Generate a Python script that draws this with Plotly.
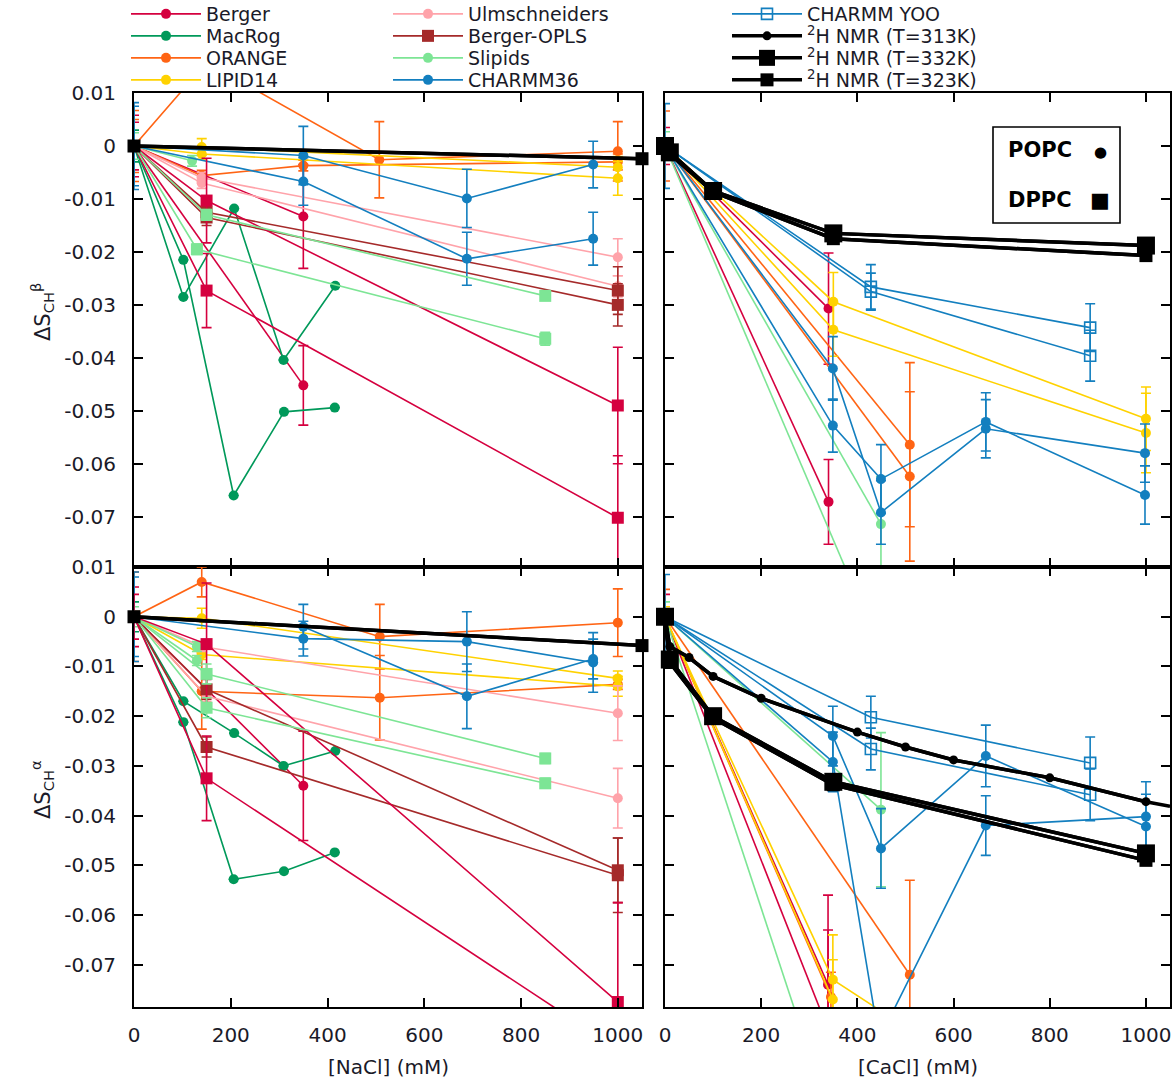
import plotly.graph_objects as go

# ---------------- ticks and titles ----------------
X_TICKS = [0, 200, 400, 600, 800, 1000]
X_TICK_LABELS = ["0", "200", "400", "600", "800", "1000"]
Y_TICKS = [0.01, 0, -0.01, -0.02, -0.03, -0.04, -0.05, -0.06, -0.07]
Y_TICK_LABELS = ["0.01", "0", "-0.01", "-0.02", "-0.03", "-0.04", "-0.05", "-0.06", "-0.07"]
X_TITLES = ["[NaCl] (mM)", "[CaCl] (mM)"]
Y_TITLES = ["ΔS<sub>CH</sub><sup>β</sup>", "ΔS<sub>CH</sub><sup>α</sup>"]

MODELS = ["Berger", "MacRog", "ORANGE", "LIPID14", "Ulmschneiders", "Berger-OPLS",
          "Slipids", "CHARMM36", "CHARMM YOO"]
NMR_NAMES = ["<sup>2</sup>H NMR (T=313K)", "<sup>2</sup>H NMR (T=332K)", "<sup>2</sup>H NMR (T=323K)"]
KEY_LABELS = ["POPC", "DPPC"]

# ================= NaCl, beta (top-left) =================
nb_berger_popc_x = [[0, 350], [0, 350]]
nb_berger_popc_y = [[0, -0.0133], [0, -0.0452]]
nb_berger_popc_e = [[0.0058, 0.0098], [0.0045, 0.0075]]
nb_berger_dppc_x = [[0, 150, 1000], [0, 150, 1000]]
nb_berger_dppc_y = [[0, -0.0103, -0.0490], [0, -0.0273, -0.0702]]
nb_berger_dppc_e = [[0, 0.0080, 0.0110], [0, 0.0070, 0.0117]]
nb_macrog_popc_x = [[0, 102, 207, 309, 416], [0, 102, 206, 310, 415]]
nb_macrog_popc_y = [[0, -0.0285, -0.0118, -0.0404, -0.0264], [0, -0.0215, -0.0660, -0.0502, -0.0494]]
nb_macrog_popc_e = [[0.0030, 0, 0, 0, 0], [0, 0, 0, 0, 0]]
nb_orange_popc_x = [[0, 150, 507, 1000], [0, 140, 350, 1000]]
nb_orange_popc_y = [[0, 0.0158, -0.0026, -0.0010], [0, -0.0056, -0.0037, -0.0030]]
nb_orange_popc_e = [[0.0067, 0.0020, 0.0072, 0.0056], [0.0050, 0.0010, 0.0010, 0.0015]]
nb_lipid14_popc_x = [[0, 140, 1000], [0, 140, 1000]]
nb_lipid14_popc_y = [[0, -0.0002, -0.0040], [0, -0.0015, -0.0061]]
nb_lipid14_popc_e = [[0, 0.0016, 0.0020], [0, 0.0010, 0.0032]]
nb_ulms_popc_x = [[0, 140, 1000], [0, 140, 1000]]
nb_ulms_popc_y = [[0, -0.0060, -0.0210], [0, -0.0070, -0.0265]]
nb_ulms_popc_e = [[0, 0.0010, 0.0035], [0, 0.0010, 0.0020]]
nb_bopls_dppc_x = [[0, 150, 1000], [0, 150, 1000]]
nb_bopls_dppc_y = [[0, -0.0125, -0.0273], [0, -0.0135, -0.0300]]
nb_bopls_dppc_e = [[0, 0.0010, 0.0045], [0, 0.0015, 0.0040]]
nb_slipids_popc_x = [[0, 120]]
nb_slipids_popc_y = [[0, -0.0028]]
nb_slipids_popc_e = [[0.0025, 0.0010]]
nb_slipids_dppc_x = [[0, 150, 850], [0, 130, 850]]
nb_slipids_dppc_y = [[0, -0.0130, -0.0283], [0, -0.0195, -0.0364]]
nb_slipids_dppc_e = [[0, 0.0010, 0.0008], [0, 0.0010, 0.0012]]
nb_charmm_popc_x = [[0, 350, 688, 949], [0, 350, 688, 949]]
nb_charmm_popc_y = [[0, -0.0018, -0.0099, -0.0035], [0, -0.0067, -0.0213, -0.0175]]
nb_charmm_popc_e = [[0.0082, 0.0055, 0.0055, 0.0044], [0.0075, 0.0045, 0.0050, 0.0050]]
nb_nmr323_x = [0, 1050]
nb_nmr323_y = [0, -0.0024]

# ================= NaCl, alpha (bottom-left) =================
na_berger_popc_x = [[0, 350]]
na_berger_popc_y = [[0, -0.0340]]
na_berger_popc_e = [[0.0060, 0.0110]]
na_berger_dppc_x = [[0, 150, 1000], [0, 150, 1000]]
na_berger_dppc_y = [[0, -0.0055, -0.0775], [0, -0.0325, -0.0870]]
na_berger_dppc_e = [[0.0045, 0.0123, 0.0200], [0, 0.0085, 0]]
na_macrog_popc_x = [[0, 102, 207, 309, 416], [0, 102, 206, 310, 415]]
na_macrog_popc_y = [[0, -0.0170, -0.0234, -0.0300, -0.0270], [0, -0.0212, -0.0528, -0.0512, -0.0474]]
na_macrog_popc_e = [[0.0030, 0, 0, 0, 0], [0, 0, 0, 0, 0]]
na_orange_popc_x = [[0, 140, 508, 1000], [0, 140, 508, 1000]]
na_orange_popc_y = [[0, 0.0070, -0.0040, -0.0012], [0, -0.0150, -0.0163, -0.0136]]
na_orange_popc_e = [[0.0090, 0.0030, 0.0065, 0.0068], [0, 0.0076, 0.0085, 0.0010]]
na_lipid14_popc_x = [[0, 140, 1000], [0, 140, 1000]]
na_lipid14_popc_y = [[0, -0.0003, -0.0124], [0, -0.0076, -0.0140]]
na_lipid14_popc_e = [[0, 0.0020, 0.0015], [0, 0.0010, 0.0020]]
na_ulms_popc_x = [[0, 140, 1000], [0, 150, 1000]]
na_ulms_popc_y = [[0, -0.0060, -0.0194], [0, -0.0160, -0.0365]]
na_ulms_popc_e = [[0, 0.0010, 0.0055], [0, 0.0010, 0.0060]]
na_bopls_dppc_x = [[0, 150, 1000], [0, 150, 1000]]
na_bopls_dppc_y = [[0, -0.0146, -0.0510], [0, -0.0262, -0.0520]]
na_bopls_dppc_e = [[0, 0.0020, 0.0065], [0, 0.0020, 0.0075]]
na_slipids_popc_x = [[0, 130], [0, 130]]
na_slipids_popc_y = [[0, -0.0060], [0, -0.0088]]
na_slipids_popc_e = [[0.0020, 0.0010], [0, 0.0010]]
na_slipids_dppc_x = [[0, 150, 850], [0, 150, 850]]
na_slipids_dppc_y = [[0, -0.0115, -0.0285], [0, -0.0183, -0.0335]]
na_slipids_dppc_e = [[0, 0.0020, 0.0010], [0, 0.0020, 0.0010]]
na_charmm_popc_x = [[0, 350, 688, 949], [0, 350, 688, 949]]
na_charmm_popc_y = [[0, -0.0020, -0.0160, -0.0085], [0, -0.0044, -0.0050, -0.0092]]
na_charmm_popc_e = [[0.0090, 0.0045, 0.0065, 0.0040], [0.0080, 0.0035, 0.0060, 0.0060]]
na_nmr323_x = [0, 1050]
na_nmr323_y = [0, -0.0058]

# ================= CaCl, beta (top-right) =================
cb_berger_popc_x = [[0, 340], [0, 340]]
cb_berger_popc_y = [[0, -0.0307], [0, -0.0672]]
cb_berger_popc_e = [[0.0035, 0.0105], [0, 0.0080]]
cb_orange_popc_x = [[0, 509], [0, 509]]
cb_orange_popc_y = [[0, -0.0564], [0, -0.0624]]
cb_orange_popc_e = [[0.0066, 0.0155], [0, 0.0160]]
cb_lipid14_popc_x = [[0, 350, 1000], [0, 350, 1000]]
cb_lipid14_popc_y = [[0, -0.0294, -0.0515], [0, -0.0347, -0.0542]]
cb_lipid14_popc_e = [[0, 0.0055, 0.0060], [0, 0.0050, 0.0075]]
cb_slipids_popc_x = [[0, 449], [0, 400]]
cb_slipids_popc_y = [[0, -0.0714], [0, -0.0850]]
cb_slipids_popc_e = [[0.0027, 0.0090], [0, 0]]
cb_charmm_popc_x = [[0, 349, 449, 667, 998], [0, 349, 449, 667, 998]]
cb_charmm_popc_y = [[0, -0.0420, -0.0692, -0.0534, -0.0580], [0, -0.0528, -0.0629, -0.0521, -0.0659]]
cb_charmm_popc_e = [[0.0080, 0.0060, 0.0060, 0.0055, 0.0055], [0, 0.0050, 0.0065, 0.0055, 0.0055]]
cb_yoo_popc_x = [[0, 428, 884], [0, 428, 884]]
cb_yoo_popc_y = [[0, -0.0266, -0.0343], [0, -0.0275, -0.0396]]
cb_yoo_popc_e = [[0, 0.0042, 0.0045], [0, 0.0035, 0.0048]]
cb_nmr332_x = [0, 10, 100, 350, 1000]
cb_nmr332_y = [0, -0.0012, -0.0085, -0.0165, -0.0188]
cb_nmr323_x = [0, 10, 100, 350, 1000]
cb_nmr323_y = [0.0003, -0.0015, -0.0087, -0.0175, -0.0207]

# ================= CaCl, alpha (bottom-right) =================
ca_berger_popc_x = [[0, 339], [0, 339]]
ca_berger_popc_y = [[0, -0.0740], [0, -0.0830]]
ca_berger_popc_e = [[0.0045, 0.0180], [0, 0.0200]]
ca_orange_popc_x = [[0, 509], [0, 345]]
ca_orange_popc_y = [[0, -0.0720], [0, -0.0765]]
ca_orange_popc_e = [[0.0055, 0.0190], [0, 0.0050]]
ca_lipid14_popc_x = [[0, 349, 460], [0, 349]]
ca_lipid14_popc_y = [[0, -0.0730, -0.0800], [0, -0.0770]]
ca_lipid14_popc_e = [[0.0020, 0.0090, 0], [0, 0.0080]]
ca_slipids_popc_x = [[0, 449], [0, 290]]
ca_slipids_popc_y = [[0, -0.0388], [0, -0.0850]]
ca_slipids_popc_e = [[0.0030, 0.0155], [0, 0]]
ca_charmm_popc_x = [[0, 349, 449, 667, 1000], [0, 349, 445, 667, 1000]]
ca_charmm_popc_y = [[0, -0.0240, -0.0466, -0.0280, -0.0422], [0, -0.0292, -0.0850, -0.0420, -0.0402]]
ca_charmm_popc_e = [[0.0085, 0.0060, 0.0080, 0.0062, 0.0065], [0, 0.0060, 0, 0.0060, 0.0070]]
ca_yoo_popc_x = [[0, 428, 884], [0, 428, 884]]
ca_yoo_popc_y = [[0, -0.0202, -0.0294], [0, -0.0266, -0.0358]]
ca_yoo_popc_e = [[0, 0.0042, 0.0052], [0, 0.0042, 0.0052]]
ca_nmr313_x = [0, 10, 50, 100, 200, 400, 500, 600, 800, 1000, 1050]
ca_nmr313_y = [0, -0.0060, -0.0082, -0.0120, -0.0164, -0.0232, -0.0262, -0.0288, -0.0324, -0.0372, -0.0381]
ca_nmr332_x = [0, 10, 100, 350, 1000]
ca_nmr332_y = [0, -0.0086, -0.0200, -0.0332, -0.0476]
ca_nmr323_x = [0, 10, 100, 350, 1000]
ca_nmr323_y = [0, -0.0092, -0.0204, -0.0338, -0.0490]

# ---------------- styles ----------------
FONT = "DejaVu Sans"
TEXT_COLOR = "#1a1a28"
COLORS = {
    "Berger": "#d5003f", "MacRog": "#00995a", "ORANGE": "#ff6414", "LIPID14": "#ffd200",
    "Ulmschneiders": "#ffa3aa", "Berger-OPLS": "#a52a2a", "Slipids": "#7de595",
    "CHARMM36": "#137fbf", "CHARMM YOO": "#137fbf",
}
AXES = {"nb": ("x", "y"), "cb": ("x2", "y2"), "na": ("x3", "y3"), "ca": ("x4", "y4")}

# legend key slots: (column, row) of each entry
LEGEND_ITEMS = MODELS[:8] + ["CHARMM YOO"] + NMR_NAMES
LEGEND_COL_X = [126, 388, 727]       # pixel x of each key column
LEGEND_ROW_Y = [15, 37, 59, 81]      # pixel y (centre) of each key row


def legend_id(name):
    i = LEGEND_ITEMS.index(name)
    return "legend" if i == 0 else "legend%d" % (i + 1)


SERIES = [
    ("nb", "Berger", "POPC", nb_berger_popc_x, nb_berger_popc_y, nb_berger_popc_e),
    ("nb", "Berger", "DPPC", nb_berger_dppc_x, nb_berger_dppc_y, nb_berger_dppc_e),
    ("nb", "MacRog", "POPC", nb_macrog_popc_x, nb_macrog_popc_y, nb_macrog_popc_e),
    ("nb", "ORANGE", "POPC", nb_orange_popc_x, nb_orange_popc_y, nb_orange_popc_e),
    ("nb", "LIPID14", "POPC", nb_lipid14_popc_x, nb_lipid14_popc_y, nb_lipid14_popc_e),
    ("nb", "Ulmschneiders", "POPC", nb_ulms_popc_x, nb_ulms_popc_y, nb_ulms_popc_e),
    ("nb", "Berger-OPLS", "DPPC", nb_bopls_dppc_x, nb_bopls_dppc_y, nb_bopls_dppc_e),
    ("nb", "Slipids", "POPC", nb_slipids_popc_x, nb_slipids_popc_y, nb_slipids_popc_e),
    ("nb", "Slipids", "DPPC", nb_slipids_dppc_x, nb_slipids_dppc_y, nb_slipids_dppc_e),
    ("nb", "CHARMM36", "POPC", nb_charmm_popc_x, nb_charmm_popc_y, nb_charmm_popc_e),
    ("na", "Berger", "POPC", na_berger_popc_x, na_berger_popc_y, na_berger_popc_e),
    ("na", "Berger", "DPPC", na_berger_dppc_x, na_berger_dppc_y, na_berger_dppc_e),
    ("na", "MacRog", "POPC", na_macrog_popc_x, na_macrog_popc_y, na_macrog_popc_e),
    ("na", "ORANGE", "POPC", na_orange_popc_x, na_orange_popc_y, na_orange_popc_e),
    ("na", "LIPID14", "POPC", na_lipid14_popc_x, na_lipid14_popc_y, na_lipid14_popc_e),
    ("na", "Ulmschneiders", "POPC", na_ulms_popc_x, na_ulms_popc_y, na_ulms_popc_e),
    ("na", "Berger-OPLS", "DPPC", na_bopls_dppc_x, na_bopls_dppc_y, na_bopls_dppc_e),
    ("na", "Slipids", "POPC", na_slipids_popc_x, na_slipids_popc_y, na_slipids_popc_e),
    ("na", "Slipids", "DPPC", na_slipids_dppc_x, na_slipids_dppc_y, na_slipids_dppc_e),
    ("na", "CHARMM36", "POPC", na_charmm_popc_x, na_charmm_popc_y, na_charmm_popc_e),
    ("cb", "Berger", "POPC", cb_berger_popc_x, cb_berger_popc_y, cb_berger_popc_e),
    ("cb", "ORANGE", "POPC", cb_orange_popc_x, cb_orange_popc_y, cb_orange_popc_e),
    ("cb", "LIPID14", "POPC", cb_lipid14_popc_x, cb_lipid14_popc_y, cb_lipid14_popc_e),
    ("cb", "Slipids", "POPC", cb_slipids_popc_x, cb_slipids_popc_y, cb_slipids_popc_e),
    ("cb", "CHARMM36", "POPC", cb_charmm_popc_x, cb_charmm_popc_y, cb_charmm_popc_e),
    ("cb", "CHARMM YOO", "YOO", cb_yoo_popc_x, cb_yoo_popc_y, cb_yoo_popc_e),
    ("ca", "Berger", "POPC", ca_berger_popc_x, ca_berger_popc_y, ca_berger_popc_e),
    ("ca", "ORANGE", "POPC", ca_orange_popc_x, ca_orange_popc_y, ca_orange_popc_e),
    ("ca", "LIPID14", "POPC", ca_lipid14_popc_x, ca_lipid14_popc_y, ca_lipid14_popc_e),
    ("ca", "Slipids", "POPC", ca_slipids_popc_x, ca_slipids_popc_y, ca_slipids_popc_e),
    ("ca", "CHARMM36", "POPC", ca_charmm_popc_x, ca_charmm_popc_y, ca_charmm_popc_e),
    ("ca", "CHARMM YOO", "YOO", ca_yoo_popc_x, ca_yoo_popc_y, ca_yoo_popc_e),
]

NMR_SERIES = [
    ("ca", 0, ca_nmr313_x, ca_nmr313_y),
    ("cb", 1, cb_nmr332_x, cb_nmr332_y),
    ("ca", 1, ca_nmr332_x, ca_nmr332_y),
    ("nb", 2, nb_nmr323_x, nb_nmr323_y),
    ("na", 2, na_nmr323_x, na_nmr323_y),
    ("cb", 2, cb_nmr323_x, cb_nmr323_y),
    ("ca", 2, ca_nmr323_x, ca_nmr323_y),
]
NMR_STYLE = [("circle", 9), ("square", 18), ("square", 13)]

fig = go.Figure()
shown = set()

order = sorted(range(len(SERIES)),
               key=lambda i: 0 if SERIES[i][2] != "DPPC" or SERIES[i][1] == "Berger-OPLS" else 1)
for i in order:
    panel, model, lipid, xs_list, ys_list, es_list = SERIES[i]
    xa, ya = AXES[panel]
    col = COLORS[model]
    if lipid == "POPC":
        sym, size = "circle", 10
    elif lipid == "DPPC":
        sym, size = "square", 12
    else:
        sym, size = "square-open", 11
    for xs, ys, es in zip(xs_list, ys_list, es_list):
        show = model not in shown
        shown.add(model)
        fig.add_trace(go.Scatter(
            x=xs, y=ys, mode="lines+markers", name=model,
            legendgroup=model, showlegend=show, legend=legend_id(model),
            xaxis=xa, yaxis=ya,
            line=dict(color=col, width=1.6),
            marker=dict(symbol=sym, size=size, color=col, opacity=1,
                        line=dict(width=1.6 if sym == "square-open" else 0, color=col)),
            error_y=dict(type="data", array=[e if e > 0 else None for e in es],
                         symmetric=True, color=col, thickness=1.6, width=5),
            cliponaxis=True,
        ))

for panel, k, xs, ys in NMR_SERIES:
    xa, ya = AXES[panel]
    sym, size = NMR_STYLE[k]
    name = NMR_NAMES[k]
    show = name not in shown
    shown.add(name)
    # the 313K curve runs off the right edge without a marker there
    n_marked = len(xs) - 1 if (k == 0 and xs[-1] > 1040) else len(xs)
    fig.add_trace(go.Scatter(
        x=xs, y=ys, mode="lines", name=name,
        legendgroup=name, showlegend=False, legend=legend_id(name),
        xaxis=xa, yaxis=ya, line=dict(color="black", width=3.5),
        hoverinfo="skip",
    ))
    fig.add_trace(go.Scatter(
        x=xs[:n_marked], y=ys[:n_marked], mode="lines+markers", name=name,
        legendgroup=name, showlegend=show, legend=legend_id(name),
        xaxis=xa, yaxis=ya,
        line=dict(color="black", width=3.5),
        marker=dict(symbol=sym, size=size, color="black", opacity=1, line=dict(width=0)),
        cliponaxis=False,
    ))

# ---------------- layout ----------------
W, H = 1172, 1088
LX = [134 / W, 642 / W]
RX = [665 / W, 1170 / W]
TY = [1 - 567 / H, 1 - 93 / H]
BY = [1 - 1007 / H, 1 - 567 / H]

tickfont = dict(family=FONT, size=20, color=TEXT_COLOR)
common_x = dict(range=[0, 1050], tickvals=X_TICKS, ticktext=X_TICK_LABELS, ticks="inside",
                ticklen=9, tickwidth=1.6, tickcolor="black", showline=True, linewidth=2,
                linecolor="black", mirror="allticks", showgrid=False, zeroline=False,
                tickfont=tickfont, ticklabelstandoff=9)
common_y = dict(tickvals=Y_TICKS, ticktext=Y_TICK_LABELS, ticks="inside", ticklen=9,
                tickwidth=1.6, tickcolor="black", showline=True, linewidth=2,
                linecolor="black", mirror="allticks", showgrid=False, zeroline=False,
                tickfont=tickfont, ticklabelstandoff=12)

layout = dict(
    width=W, height=H, margin=dict(l=0, r=0, t=0, b=0, autoexpand=False),
    paper_bgcolor="white", plot_bgcolor="white", showlegend=True,
    xaxis=dict(common_x, domain=LX, anchor="y", showticklabels=False),
    yaxis=dict(common_y, domain=TY, anchor="x", range=[-0.0795, 0.01001]),
    xaxis2=dict(common_x, domain=RX, anchor="y2", showticklabels=False),
    yaxis2=dict(common_y, domain=TY, anchor="x2", range=[-0.0795, 0.01001], showticklabels=False),
    xaxis3=dict(common_x, domain=LX, anchor="y3"),
    yaxis3=dict(common_y, domain=BY, anchor="x3", range=[-0.0785, 0.01001]),
    xaxis4=dict(common_x, domain=RX, anchor="y4"),
    yaxis4=dict(common_y, domain=BY, anchor="x4", range=[-0.0785, 0.01001], showticklabels=False),
)
LEG_TOP_OFFSET = 20  # pixels from legend top to centre of its single item
for idx, name in enumerate(LEGEND_ITEMS):
    col, row = idx // 4, idx % 4
    layout[legend_id(name)] = dict(
        x=LEGEND_COL_X[col] / W, y=1 - (LEGEND_ROW_Y[row] - LEG_TOP_OFFSET) / H,
        xanchor="left", yanchor="top",
        font=dict(family=FONT, size=19, color=TEXT_COLOR),
        bgcolor="rgba(0,0,0,0)", itemwidth=70, tracegroupgap=0,
    )
fig.update_layout(**layout)

tf = dict(family=FONT, size=20, color=TEXT_COLOR)
ann = [
    dict(x=(LX[0] + LX[1]) / 2, y=1 - 1067 / H, text=X_TITLES[0], font=tf),
    dict(x=(RX[0] + RX[1]) / 2, y=1 - 1067 / H, text=X_TITLES[1], font=tf),
    dict(x=42 / W, y=1 - 312 / H, text=Y_TITLES[0], textangle=-90, font=dict(tf, size=21)),
    dict(x=42 / W, y=1 - 790 / H, text=Y_TITLES[1], textangle=-90, font=dict(tf, size=21)),
    dict(x=1040 / W, y=1 - 150 / H, text="<b>" + KEY_LABELS[0] + "</b>",
         font=dict(family=FONT, size=21, color="black")),
    dict(x=1040 / W, y=1 - 200 / H, text="<b>" + KEY_LABELS[1] + "</b>",
         font=dict(family=FONT, size=21, color="black")),
    dict(x=1100 / W, y=1 - 152 / H, text="●", font=dict(family=FONT, size=15, color="black")),
    dict(x=1100 / W, y=1 - 200 / H, text="■", font=dict(family=FONT, size=21, color="black")),
]
for a in ann:
    a.update(xref="paper", yref="paper", showarrow=False, xanchor="center", yanchor="middle")
fig.update_layout(annotations=ann)
fig.add_shape(type="rect", xref="paper", yref="paper", x0=993 / W, x1=1120 / W,
              y0=1 - 223 / H, y1=1 - 127 / H, line=dict(color="black", width=1.6))

fig.write_html("out.html")
